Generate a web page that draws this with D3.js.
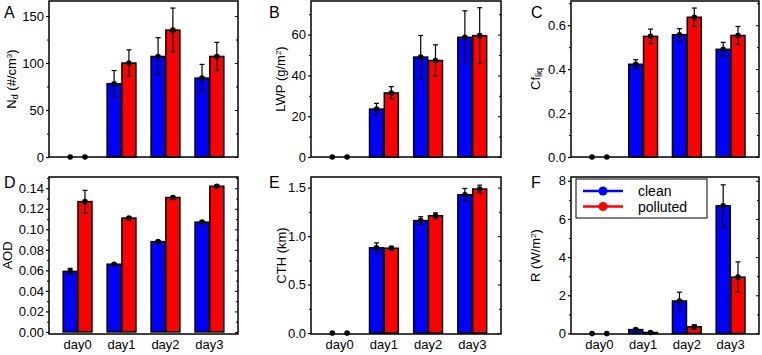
<!DOCTYPE html>
<html>
<head>
<meta charset="utf-8">
<script src="https://cdn.jsdelivr.net/npm/d3@7"></script>
<style>
  body { margin: 0; background: #fff; }
  text { font-family: 'Liberation Sans', Arial, sans-serif; fill: #000; }
</style>
</head>
<body>
<svg id="chart" width="762" height="355"></svg>
<script>
// categories
const days = ['day0', 'day1', 'day2', 'day3'];
const seriesNames = ['clean', 'polluted'];

// A: droplet number
const ndClean = [0, 78, 107, 84];
const ndCleanErr = [0, 14, 20, 14.5];
const ndPolluted = [0, 100, 135, 107];
const ndPollutedErr = [0, 14, 23.5, 15];
const ndTicks = [0, 50, 100, 150];

// B: liquid water path
const lwpClean = [0, 23.5, 49, 58.7];
const lwpCleanErr = [0, 2.8, 10.6, 13];
const lwpPolluted = [0, 31.4, 47.3, 59.5];
const lwpPollutedErr = [0, 3.1, 7.7, 13.7];
const lwpTicks = [0, 20, 40, 60];

// C: liquid cloud fraction
const cfClean = [0, 0.422, 0.556, 0.49];
const cfCleanErr = [0, 0.021, 0.028, 0.032];
const cfPolluted = [0, 0.549, 0.636, 0.553];
const cfPollutedErr = [0, 0.033, 0.042, 0.041];
const cfTicks = [0, 0.2, 0.4, 0.6];

// D: aerosol optical depth
const aodClean = [0.059, 0.066, 0.088, 0.107];
const aodCleanErr = [0.003, 0.001, 0.001, 0.001];
const aodPolluted = [0.127, 0.111, 0.131, 0.142];
const aodPollutedErr = [0.011, 0.001, 0.001, 0.001];
const aodTicks = [0, 0.02, 0.04, 0.06, 0.08, 0.1, 0.12, 0.14];

// E: cloud top height
const cthClean = [0, 0.88, 1.16, 1.427];
const cthCleanErr = [0, 0.05, 0.04, 0.065];
const cthPolluted = [0, 0.875, 1.21, 1.486];
const cthPollutedErr = [0, 0.02, 0.03, 0.04];
const cthTicks = [0, 0.5, 1.0, 1.5];

// F: rain rate
const rClean = [0, 0.2, 1.7, 6.69];
const rCleanErr = [0, 0.05, 0.46, 1.1];
const rPolluted = [0, 0.05, 0.35, 2.95];
const rPollutedErr = [0, 0.03, 0.1, 0.8];
const rTicks = [0, 2, 4, 6, 8];

const colors = { clean: '#0000ff', polluted: '#ff0000' };

const cols = [[49, 238], [311, 501], [571, 759]];
const rows = [[1, 157], [177, 334]];

const panels = [
  { letter: 'A', clean: ndClean, cleanErr: ndCleanErr, polluted: ndPolluted, pollutedErr: ndPollutedErr,
    ticks: ndTicks, fmt: d3.format('d'), domain: [0, 166], labelX: -33,
    label: [['N', 0], ['d', 'sub'], [' (#/cm', 0], ['3', 'sup'], [')', 0]] },
  { letter: 'B', clean: lwpClean, cleanErr: lwpCleanErr, polluted: lwpPolluted, pollutedErr: lwpPollutedErr,
    ticks: lwpTicks, fmt: d3.format('d'), domain: [0, 76.5], labelX: -26,
    label: [['LWP (g/m', 0], ['2', 'sup'], [')', 0]] },
  { letter: 'C', clean: cfClean, cleanErr: cfCleanErr, polluted: cfPolluted, pollutedErr: cfPollutedErr,
    ticks: cfTicks, fmt: d3.format('.1f'), domain: [0, 0.71], labelX: -31,
    label: [['Cf', 0], ['liq', 'sub']] },
  { letter: 'D', clean: aodClean, cleanErr: aodCleanErr, polluted: aodPolluted, pollutedErr: aodPollutedErr,
    ticks: aodTicks, fmt: d3.format('.2f'), domain: [-0.002, 0.151], labelX: -37,
    label: [['AOD', 0]] },
  { letter: 'E', clean: cthClean, cleanErr: cthCleanErr, polluted: cthPolluted, pollutedErr: cthPollutedErr,
    ticks: cthTicks, fmt: d3.format('.1f'), domain: [-0.01, 1.61], labelX: -25,
    label: [['CTH (km)', 0]] },
  { letter: 'F', clean: rClean, cleanErr: rCleanErr, polluted: rPolluted, pollutedErr: rPollutedErr,
    ticks: rTicks, fmt: d3.format('d'), domain: [-0.03, 8.2], labelX: -31,
    label: [['R (W/m', 0], ['2', 'sup'], [')', 0]], legend: true }
];

const svg = d3.select('#chart');

panels.forEach((p, i) => {
  const [x0, x1] = cols[i % 3];
  const [y0, y1] = rows[Math.floor(i / 3)];
  const w = x1 - x0, h = y1 - y0;
  const g = svg.append('g').attr('transform', `translate(${x0},${y0})`);

  const x = d3.scalePoint().domain(days).range([0, w]).padding(0.65);
  const y = d3.scaleLinear().domain(p.domain).range([h, 0]);
  const barW = 14, off = 7.4;

  // minor ticks halfway between majors
  const step = p.ticks[1] - p.ticks[0];
  const minor = p.ticks.map(t => t + step / 2).filter(t => t <= p.domain[1]);

  // axes
  const left = g.append('g').call(d3.axisLeft(y).tickValues(p.ticks).tickFormat(p.fmt).tickSize(3).tickPadding(2));
  left.select('.domain').remove();
  left.selectAll('text').style('font-size', '13px').style('font-family', "'Liberation Sans', Arial, sans-serif");
  left.selectAll('line').attr('stroke-width', 1.2);
  g.append('g').call(d3.axisLeft(y).tickValues(minor).tickFormat('').tickSize(2))
    .call(s => s.select('.domain').remove());
  g.append('g').attr('transform', `translate(${w},0)`)
    .call(d3.axisRight(y).tickValues(p.ticks).tickFormat('').tickSize(-3))
    .call(s => s.select('.domain').remove());
  g.append('g').attr('transform', `translate(${w},0)`)
    .call(d3.axisRight(y).tickValues(minor).tickFormat('').tickSize(-2))
    .call(s => s.select('.domain').remove());

  // bars, error bars and markers
  seriesNames.forEach((name, si) => {
    const vals = p[name], errs = p[name + 'Err'];
    const dx = si === 0 ? -off : off;
    const rows = days.map((d, k) => ({ day: d, v: vals[k], e: errs[k] }));
    g.selectAll(null).data(rows.filter(r => r.v !== 0)).enter().append('rect')
      .attr('x', r => x(r.day) + dx - barW / 2)
      .attr('y', r => y(r.v))
      .attr('width', barW)
      .attr('height', r => y(0) - y(r.v))
      .attr('fill', colors[name])
      .attr('stroke', '#000')
      .attr('stroke-width', 1.5);
    const eb = g.selectAll(null).data(rows.filter(r => r.e > 0)).enter().append('g');
    eb.append('line')
      .attr('x1', r => x(r.day) + dx).attr('x2', r => x(r.day) + dx)
      .attr('y1', r => y(r.v - r.e)).attr('y2', r => y(r.v + r.e))
      .attr('stroke', '#000').attr('stroke-width', 1.2);
    [-1, 1].forEach(sgn => {
      eb.append('line')
        .attr('x1', r => x(r.day) + dx - 2.5).attr('x2', r => x(r.day) + dx + 2.5)
        .attr('y1', r => y(r.v + sgn * r.e)).attr('y2', r => y(r.v + sgn * r.e))
        .attr('stroke', '#000').attr('stroke-width', 1.2);
    });
    g.selectAll(null).data(rows).enter().append('circle')
      .attr('cx', r => x(r.day) + dx)
      .attr('cy', r => y(r.v))
      .attr('r', 2.8)
      .attr('fill', '#000');
  });

  // frame
  g.append('rect').attr('width', w).attr('height', h)
    .attr('fill', 'none').attr('stroke', '#000').attr('stroke-width', 1.5);

  // x labels on bottom row
  if (Math.floor(i / 3) === 1) {
    g.selectAll(null).data(days).enter().append('text')
      .attr('x', d => x(d)).attr('y', h + 15)
      .attr('text-anchor', 'middle').style('font-size', '13px')
      .text(d => d);
  }

  // y label
  const lab = g.append('text')
    .attr('transform', `translate(${p.labelX},${h / 2}) rotate(-90)`)
    .attr('text-anchor', 'middle').style('font-size', '13px');
  p.label.forEach(([t, kind]) => {
    const ts = lab.append('tspan').text(t);
    if (kind === 'sub') ts.style('font-size', '9px').attr('baseline-shift', '-25%');
    if (kind === 'sup') ts.style('font-size', '8px').attr('baseline-shift', '45%');
  });

  // panel letter
  svg.append('text')
    .attr('x', x0 - 45 + (i % 3 === 2 ? 5 : i % 3 === 1 ? 3 : 0))
    .attr('y', Math.floor(i / 3) === 0 ? 18 : 188)
    .style('font-size', '16px')
    .text(p.letter);

  // legend
  if (p.legend) {
    const lg = g.append('g').attr('transform', 'translate(5,2)');
    lg.append('rect').attr('width', 131).attr('height', 39)
      .attr('fill', '#fff').attr('stroke', '#000').attr('stroke-width', 1);
    seriesNames.forEach((name, k) => {
      const ly = 12 + k * 15.5;
      lg.append('line').attr('x1', 7).attr('x2', 47).attr('y1', ly).attr('y2', ly)
        .attr('stroke', colors[name]).attr('stroke-width', 2.5);
      lg.append('circle').attr('cx', 27).attr('cy', ly).attr('r', 4.5).attr('fill', colors[name]);
      lg.append('text').attr('x', 62).attr('y', ly + 5).style('font-size', '14px').text(name);
    });
  }
});
</script>
</body>
</html>
